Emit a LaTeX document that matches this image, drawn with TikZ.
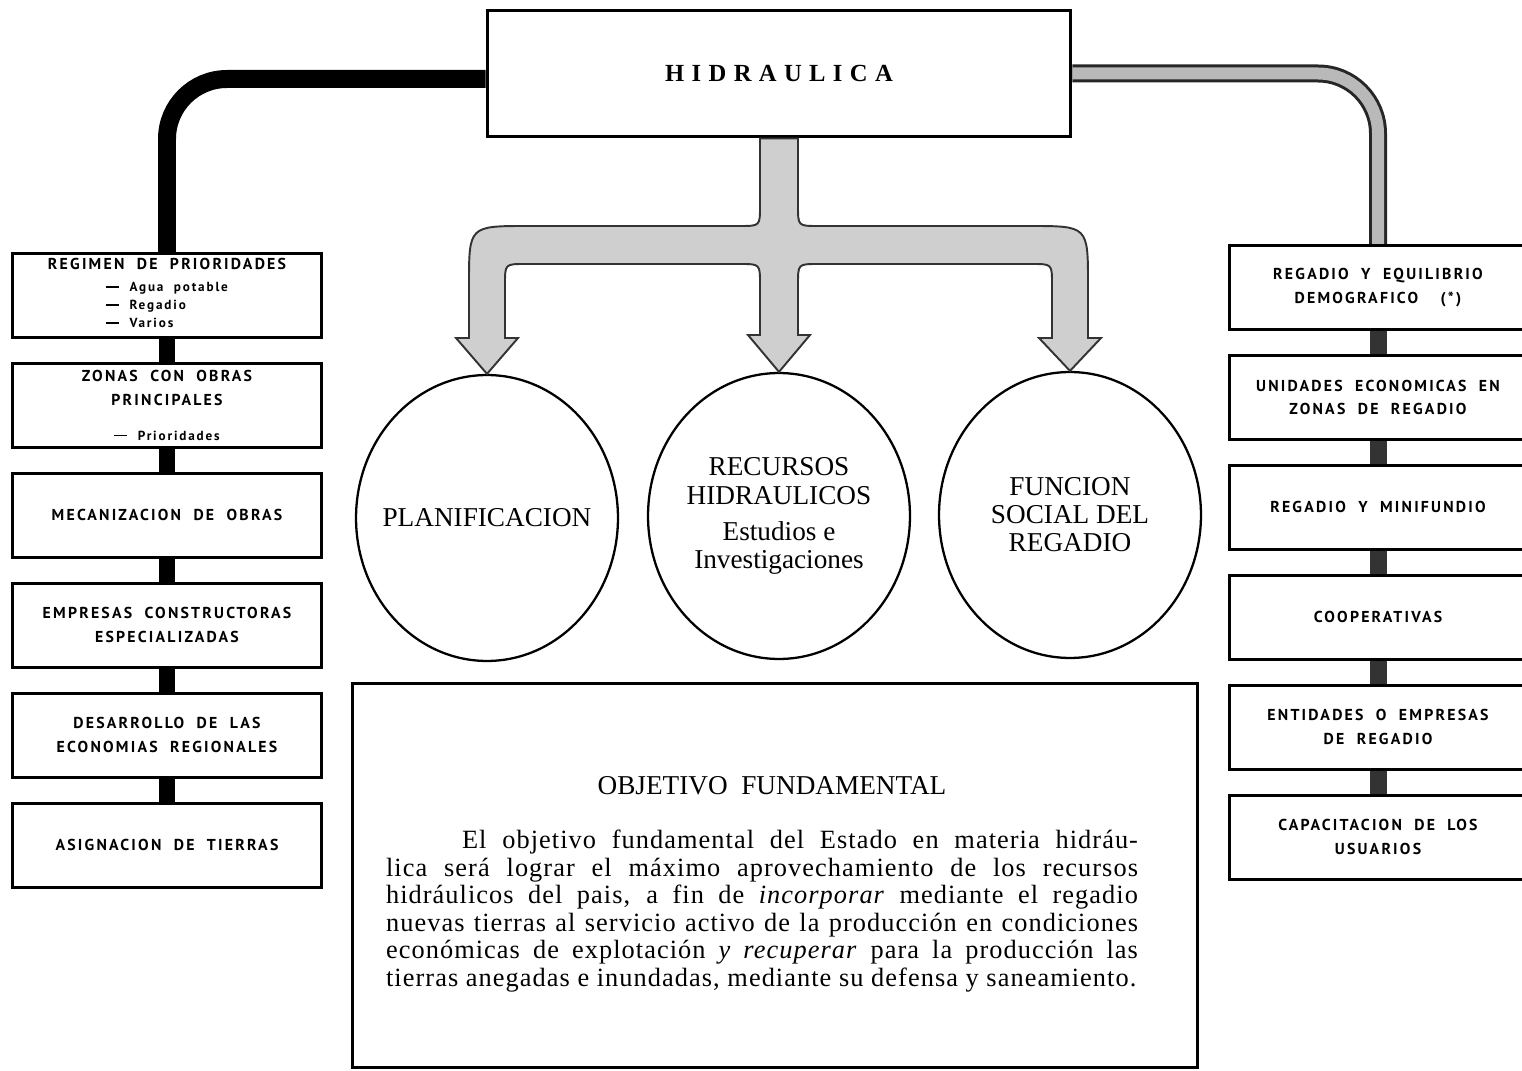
\documentclass[tikz,border=0pt]{standalone}
\usepackage{fontspec}
\setmainfont{Liberation Serif}
\newfontfamily\boxfont[LetterSpace=14,WordSpace=2]{PT Sans}
\newfontfamily\titlefont[LetterSpace=30]{Liberation Serif}
\newfontfamily\parafont[LetterSpace=4]{Liberation Serif}
\usetikzlibrary{positioning, calc, shapes.geometric}

\begin{document}
\begin{tikzpicture}[x=0.02cm, y=-0.02cm, node distance=0.46cm,
    box/.style={draw, line width=1.7pt, fill=white, minimum width=6.2cm,
        minimum height=1.68cm, align=center, inner sep=2pt,
        font=\boxfont\bfseries\fontsize{9}{13.6}\selectfont},
    rbox/.style={box, minimum width=5.96cm},
    blob/.style={draw, ellipse, line width=1.3pt, minimum width=5.24cm,
        minimum height=5.72cm, inner xsep=-14pt, inner ysep=0pt, align=center,
        font=\fontsize{15.5}{16}\selectfont},
    link/.style={line width=0.34cm},
    pipe/.style={line width=0.36cm, rounded corners=1.2cm},
    fatarrow/.style={fill=gray!38, draw=black!80, line width=1.1pt}]
    \useasboundingbox (0,0) rectangle (1522,1071);

    \node[draw, line width=1.7pt, minimum width=11.68cm, minimum height=2.54cm,
        font=\titlefont\bfseries\fontsize{14}{16}\selectfont] (hidra) at (779,73.5) {HIDRAULICA};

    \node[box, anchor=north] (prior) at (167,252) {REGIMEN DE PRIORIDADES\\[-1pt]
        {\fontsize{7.5}{10.2}\selectfont\begin{tabular}[t]{@{}l@{}}\rule[0.28em]{1em}{1pt} Agua potable\\
        \rule[0.28em]{1em}{1pt} Regadio\\\rule[0.28em]{1em}{1pt} Varios\end{tabular}}};
    \node[box, below=of prior] (zonas) {ZONAS CON OBRAS\\PRINCIPALES\\[6pt]
        {\fontsize{7.5}{10}\selectfont\rule[0.28em]{1em}{1pt} Prioridades}};
    \node[box, below=of zonas] (mecan) {MECANIZACION DE OBRAS};
    \node[box, below=of mecan] (empre) {EMPRESAS CONSTRUCTORAS\\ESPECIALIZADAS};
    \node[box, below=of empre] (desar) {DESARROLLO DE LAS\\ECONOMIAS REGIONALES};
    \node[box, below=of desar] (asign) {ASIGNACION DE TIERRAS};

    \node[rbox, anchor=north] (equil) at (1378,244) {REGADIO Y EQUILIBRIO\\DEMOGRAFICO\hspace{0.45cm}(*)};
    \node[rbox, below=of equil] (unid) {UNIDADES ECONOMICAS EN\\ZONAS DE REGADIO};
    \node[rbox, below=of unid] (minif) {REGADIO Y MINIFUNDIO};
    \node[rbox, below=of minif] (coop) {COOPERATIVAS};
    \node[rbox, below=of coop] (entid) {ENTIDADES O EMPRESAS\\DE REGADIO};
    \node[rbox, below=of entid] (capac) {CAPACITACION DE LOS\\USUARIOS};

    \node[blob] (plan) at (487,518) {PLANIFICACION};
    \node[blob] (recur) at (779,516) {RECURSOS\\HIDRAULICOS\\[4.5pt]Estudios e\\Investigaciones};
    \node[blob] (func) at (1070,515) {FUNCION\\SOCIAL DEL\\REGADIO};

    \node[draw, line width=1.7pt, minimum width=16.92cm, minimum height=7.7cm] (obj) at (775,875.5) {};
    \node[font=\fontsize{15.5}{18}\selectfont] (objtitle) at (772,786) {OBJETIVO\ \ FUNDAMENTAL};
    \node[text width=15.04cm, align=justify, inner sep=0pt,
        font=\parafont\fontsize{15}{15.65}\selectfont] (objtext) at (762,911) {%
        \tolerance=10000 \hyphenpenalty=10000 \parfillskip=0pt
        \noindent\hspace*{1.52cm}El objetivo fundamental del Estado en materia hidráu-\linebreak
        lica será lograr el máximo aprovechamiento de los recursos\linebreak
        hidráulicos del pais, a fin de \textit{incorporar} mediante el regadio\linebreak
        nuevas tierras al servicio activo de la producción en condiciones\linebreak
        económicas de explotación \textit{y recuperar} para la producción las\linebreak
        tierras anegadas e inundadas, mediante su defensa y saneamiento.};

    \draw[pipe] ([yshift=-0.11cm]hidra.west) -| (prior.north);
    \draw[pipe, black!85] (hidra.east) -| (equil.north);
    \draw[pipe, line width=0.24cm, gray!55] (hidra.east) -| (equil.north);

    \foreach \a/\b in {prior/zonas, zonas/mecan, mecan/empre, empre/desar, desar/asign}
        \draw[link] (\a.south) -- (\b.north);
    \foreach \a/\b in {equil/unid, unid/minif, minif/coop, coop/entid, entid/capac}
        \draw[link, black!80] (\a.south) -- (\b.north);

    \filldraw[fatarrow] (hidra.south -| 760,0) -- (760,206) .. controls (760,226) .. (740,226)
        -- (527,226) .. controls (469,226) .. (469,284)
        -- (469,338) -- (456,338) -- (plan.north) -- (518,338) -- (505,338)
        -- (505,284) .. controls (505,264) .. (525,264)
        -- (740,264) .. controls (760,264) .. (760,284)
        -- (760,335) -- (748,335) -- (recur.north) -- (810,335) -- (798,335)
        -- (798,284) .. controls (798,264) .. (818,264)
        -- (1032,264) .. controls (1052,264) .. (1052,284)
        -- (1052,338) -- (1039,338) -- (func.north) -- (1101,338) -- (1088,338)
        -- (1088,284) .. controls (1088,226) .. (1030,226)
        -- (818,226) .. controls (798,226) .. (798,206) -- (hidra.south -| 798,0) -- cycle;
\end{tikzpicture}
\end{document}
